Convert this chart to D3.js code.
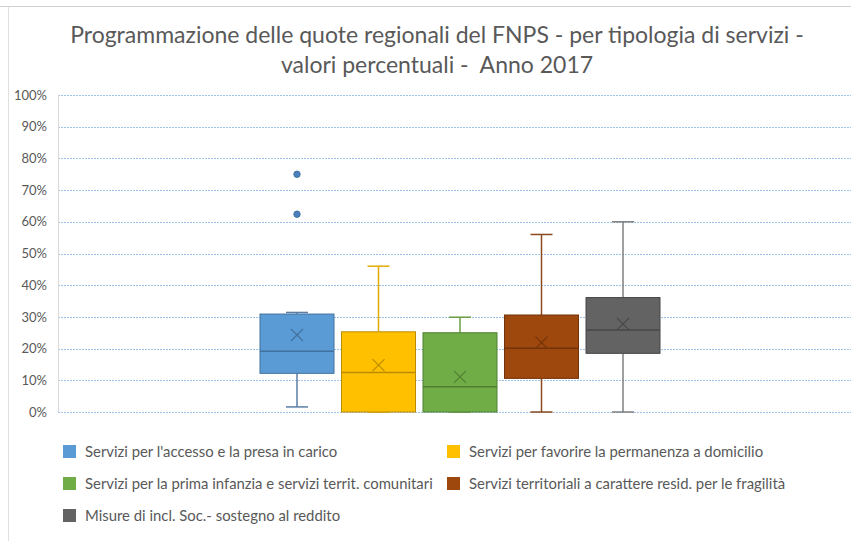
<!DOCTYPE html>
<html><head><meta charset="utf-8">
<script src="https://cdn.jsdelivr.net/npm/d3@7"></script>
<style>
html,body{margin:0;padding:0;background:#fff;}
svg{display:block;font-family:Lato,"Open Sans",sans-serif;}
</style></head>
<body>
<svg id="c" width="851" height="541"></svg>
<script>
// ---- data ----
const titleLines = ["Programmazione delle quote regionali del FNPS - per tipologia di servizi -", "valori percentuali -  Anno 2017"];
const series = [
  "Servizi per l'accesso e la presa in carico",
  "Servizi per favorire la permanenza a domicilio",
  "Servizi per la prima infanzia e servizi territ. comunitari",
  "Servizi territoriali a carattere resid. per le fragilità",
  "Misure di incl. Soc.- sostegno al reddito"
];
const whiskerLow  = [1.6, 0, 0, 0, 0];
const q1          = [12.2, 0, 0, 10.6, 18.5];
const median      = [19.2, 12.5, 8.0, 20.1, 25.9];
const q3          = [30.9, 25.3, 25.0, 30.6, 36.1];
const whiskerHigh = [31.4, 46.0, 29.9, 56.0, 60.0];
const mean        = [24.3, 14.8, 11.1, 21.9, 27.8];
const outliers    = [[75.0, 62.4], [], [], [], []];
const yTicks = [0,10,20,30,40,50,60,70,80,90,100];

const fills  = ["#5b9bd5","#ffc000","#70ad47","#9e480e","#636363"];
const darks  = ["#41719c","#bc8c00","#507e32","#71340a","#474747"];
const whisk  = ["#5a7ea6","#e3ab00","#6a9f45","#8a4a1e","#7f7f7f"];

const svg = d3.select("#c");
const txt = "#595959";

// frame
svg.append("line").attr("x1",0).attr("x2",851).attr("y1",6.5).attr("y2",6.5).attr("stroke","#d0d0d0");
svg.append("line").attr("x1",8.5).attr("x2",8.5).attr("y1",6.5).attr("y2",541).attr("stroke","#e0e0e0");

function fitSize(sel, target){
  const w = sel.node().getComputedTextLength();
  return parseFloat(sel.attr("font-size"))*target/w;
}

// title
const t1 = svg.append("text").attr("x",437).attr("y",43).attr("text-anchor","middle")
  .attr("font-size",20).attr("fill",txt).text(titleLines[0]);
t1.attr("font-size", fitSize(t1, 734));
const t2 = svg.append("text").attr("x",437).attr("y",73).attr("text-anchor","middle")
  .style("white-space","pre")
  .attr("font-size",t1.attr("font-size")).attr("fill",txt).text(titleLines[1]);

// scales
const y = d3.scaleLinear().domain([0,100]).range([412,95]);
const plotL = 58, plotR = 860;
const x = d3.scaleBand().domain(series).range([252.5,667.5]).paddingInner(0.092).paddingOuter(0.092);

// gridlines
svg.append("g").selectAll("line").data(yTicks).join("line")
  .attr("x1",plotL).attr("x2",plotR)
  .attr("y1",d=>Math.round(y(d))+0.5).attr("y2",d=>Math.round(y(d))+0.5)
  .attr("stroke","#9dc3e6").attr("stroke-width",1).attr("stroke-dasharray","2,1");

// y axis
const ya = d3.axisLeft(y).tickValues(yTicks).tickFormat(d=>d+"%").tickSize(0).tickPadding(0);
const yg = svg.append("g").attr("transform","translate(47,0)").call(ya);
yg.select(".domain").remove();
yg.selectAll("text").attr("fill",txt).attr("font-size",13).attr("font-family","Lato,sans-serif");
svg.append("line").attr("x1",plotL+0.5).attr("x2",plotL+0.5).attr("y1",y(100)).attr("y2",y(0)).attr("stroke","#d9d9d9");

// boxes
const bw = x.bandwidth();
const capW = 22;
series.forEach((s,i)=>{
  const g = svg.append("g");
  const cx = x(s) + bw/2;
  g.append("line").attr("x1",cx).attr("x2",cx).attr("y1",y(q3[i])).attr("y2",y(whiskerHigh[i])).attr("stroke",whisk[i]).attr("stroke-width",1.5);
  g.append("line").attr("x1",cx).attr("x2",cx).attr("y1",y(q1[i])).attr("y2",y(whiskerLow[i])).attr("stroke",whisk[i]).attr("stroke-width",1.5);
  g.append("line").attr("x1",cx-capW/2).attr("x2",cx+capW/2).attr("y1",y(whiskerHigh[i])).attr("y2",y(whiskerHigh[i])).attr("stroke",whisk[i]).attr("stroke-width",1.5);
  g.append("line").attr("x1",cx-capW/2).attr("x2",cx+capW/2).attr("y1",y(whiskerLow[i])).attr("y2",y(whiskerLow[i])).attr("stroke",whisk[i]).attr("stroke-width",1.5);
  g.append("rect").attr("x",x(s)).attr("width",bw).attr("y",y(q3[i])).attr("height",y(q1[i])-y(q3[i]))
    .attr("fill",fills[i]).attr("stroke",darks[i]).attr("stroke-width",1);
  g.append("line").attr("x1",x(s)).attr("x2",x(s)+bw).attr("y1",y(median[i])).attr("y2",y(median[i])).attr("stroke",darks[i]).attr("stroke-width",1.5);
  const my = y(mean[i]), r = 6;
  g.append("path").attr("d",`M${cx-r},${my-r}L${cx+r},${my+r}M${cx-r},${my+r}L${cx+r},${my-r}`).attr("stroke",darks[i]).attr("stroke-width",1.2).attr("fill","none");
  g.selectAll("circle").data(outliers[i]).join("circle").attr("cx",cx).attr("cy",d=>y(d)).attr("r",3.2)
    .attr("fill","#4a80bd").attr("stroke","#41719c");
});

// legend
const legPos = [[63,452],[447,452],[63,484],[447,484],[63,516]];
const legTexts = series.map((s,i)=>{
  const [lx,ly] = legPos[i];
  svg.append("rect").attr("x",lx).attr("y",ly-7).attr("width",13).attr("height",13).attr("fill",fills[i]);
  return svg.append("text").attr("x",lx+22).attr("y",ly+4.5).attr("font-size",13).attr("fill",txt).text(s);
});
const lfs = fitSize(legTexts[2], 348);
legTexts.forEach(t=>t.attr("font-size", lfs));
</script>
</body></html>
